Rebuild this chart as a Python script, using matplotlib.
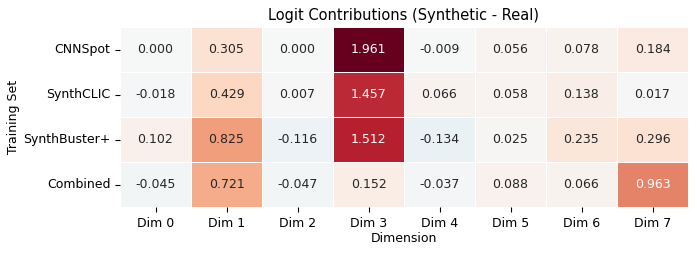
import matplotlib
matplotlib.use("Agg")
import matplotlib.pyplot as plt
import seaborn as sns
import numpy as np
import pandas as pd

training_sets = ["CNNSpot", "SynthCLIC", "SynthBuster+", "Combined"]
dimensions = ["Dim 0", "Dim 1", "Dim 2", "Dim 3", "Dim 4", "Dim 5", "Dim 6", "Dim 7"]
cnnspot = [0.000, 0.305, 0.000, 1.961, -0.009, 0.056, 0.078, 0.184]
synthclic = [-0.018, 0.429, 0.007, 1.457, 0.066, 0.058, 0.138, 0.017]
synthbuster = [0.102, 0.825, -0.116, 1.512, -0.134, 0.025, 0.235, 0.296]
combined = [-0.045, 0.721, -0.047, 0.152, -0.037, 0.088, 0.066, 0.963]

df = pd.DataFrame([cnnspot, synthclic, synthbuster, combined],
                  index=training_sets, columns=dimensions)

fig = plt.figure(figsize=(6.97, 2.54), dpi=100)
ax = fig.add_axes([120/697, 1-207/254, (688-120)/697, (207-27)/254])
sns.heatmap(df, ax=ax, cmap="RdBu_r", center=0, annot=True, fmt=".3f",
            cbar=False, linewidths=0.5, linecolor="white",
            annot_kws={"fontsize": 9})
ax.set_title("Logit Contributions (Synthetic - Real)", fontsize=10.5, pad=5)
ax.set_xlabel("Dimension", fontsize=9, labelpad=2)
ax.set_ylabel("Training Set", fontsize=9, labelpad=2)
ax.tick_params(axis="both", labelsize=9, length=3.5)
plt.setp(ax.get_yticklabels(), rotation=0)
plt.setp(ax.get_xticklabels(), rotation=0)
fig.savefig("out.png", dpi=100)
